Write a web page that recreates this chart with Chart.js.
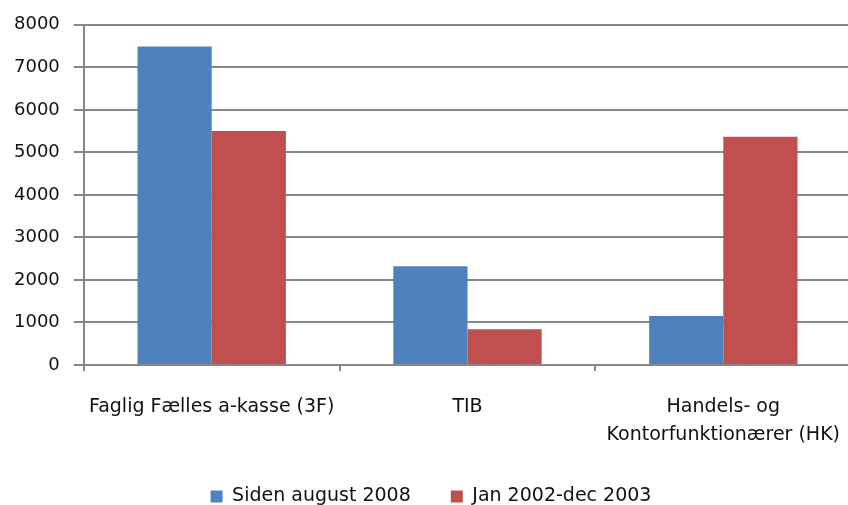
<!DOCTYPE html>
<html lang="da">
<head>
    <meta charset="UTF-8">
    <title>Medlemmer</title>
    <style>
        html, body {
            margin: 0;
            padding: 0;
            background: #fff;
            overflow: hidden;
        }
        #wrap {
            width: 862px;
            height: 505px;
        }
    </style>
    <script src="https://cdn.jsdelivr.net/npm/chart.js"></script>
</head>
<body>
    <div id="wrap"><canvas id="chart"></canvas></div>

    <script>
        const kategorier = [
            "Faglig Fælles a-kasse (3F)",
            "TIB",
            ["Handels- og", "Kontorfunktionærer (HK)"]
        ];
        const sidenAugust2008 = [7490, 2320, 1150];
        const jan2002Dec2003 = [5500, 840, 5370];
        const yTicks = [0, 1000, 2000, 3000, 4000, 5000, 6000, 7000, 8000];

        const gridFarve = "#878787";
        const tekstFarve = "#111";
        const skrift = "DejaVu Sans";

        new Chart(document.getElementById("chart"), {
            type: "bar",
            data: {
                labels: kategorier,
                datasets: [
                    {
                        label: "Siden august 2008",
                        data: sidenAugust2008,
                        backgroundColor: "#4F81BD"
                    },
                    {
                        label: "Jan 2002-dec 2003",
                        data: jan2002Dec2003,
                        backgroundColor: "#C0504D"
                    }
                ]
            },
            options: {
                responsive: true,
                maintainAspectRatio: false,
                animation: false,
                datasets: {
                    bar: {
                        categoryPercentage: 0.58,
                        barPercentage: 1
                    }
                },
                layout: {
                    padding: { top: 16, left: 0, right: 0, bottom: -11 }
                },
                plugins: {
                    legend: {
                        position: "bottom",
                        labels: {
                            boxWidth: 12,
                            boxHeight: 12,
                            padding: 40,
                            color: tekstFarve,
                            font: { family: skrift, size: 19 }
                        }
                    },
                    tooltip: { enabled: false }
                },
                scales: {
                    x: {
                        afterFit: axis => { axis.height = 82; },
                        grid: {
                            offset: true,
                            drawOnChartArea: false,
                            drawTicks: true,
                            tickLength: 6,
                            color: gridFarve,
                            lineWidth: 2
                        },
                        border: { color: gridFarve, width: 2 },
                        ticks: {
                            color: tekstFarve,
                            padding: 22,
                            maxRotation: 0,
                            autoSkip: false,
                            font: { family: skrift, size: 19, lineHeight: 1.48 }
                        }
                    },
                    y: {
                        min: 0,
                        max: 8000,
                        afterBuildTicks: axis => {
                            axis.ticks = yTicks.map(v => ({ value: v }));
                        },
                        grid: {
                            color: gridFarve,
                            lineWidth: 2,
                            tickLength: 10
                        },
                        border: { color: gridFarve, width: 2 },
                        ticks: {
                            color: tekstFarve,
                            padding: 14,
                            font: { family: skrift, size: 18 },
                            callback: v => String(v)
                        }
                    }
                }
            }
        });
    </script>
</body>
</html>
